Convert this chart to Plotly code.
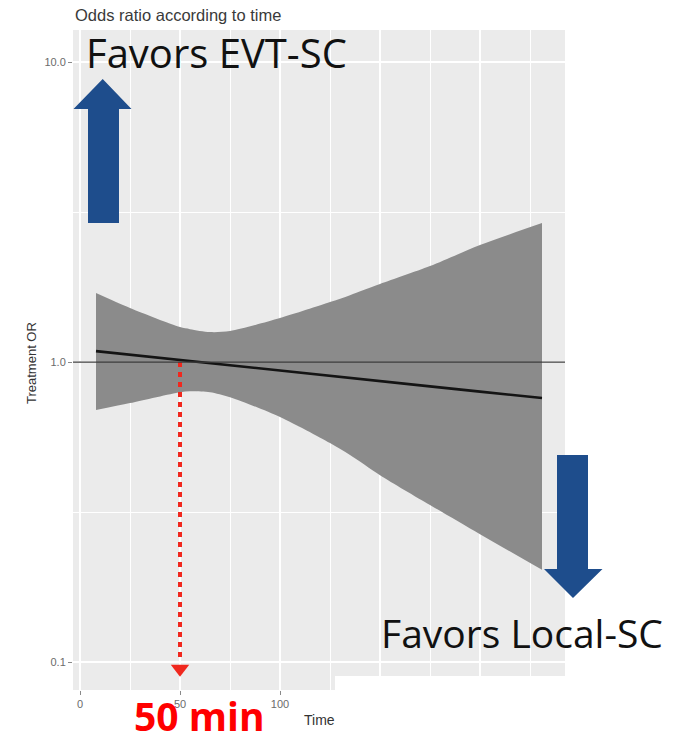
import plotly.graph_objects as go

# ---- data ----
time_min = [8, 25, 50, 55, 65, 75, 100, 125, 135, 150, 175, 200, 231]
or_est = [1.088, 1.059, 1.017, 1.009, 0.992, 0.976, 0.938, 0.900, 0.886, 0.865, 0.830, 0.797, 0.759]
or_upper = [1.698, 1.514, 1.308, 1.288, 1.259, 1.269, 1.402, 1.585, 1.672, 1.820, 2.089, 2.455, 2.906]
or_lower = [0.692, 0.730, 0.794, 0.800, 0.794, 0.764, 0.656, 0.537, 0.490, 0.420, 0.334, 0.267, 0.203]

x_tickvals = [0, 50, 100, 150, 200]
x_ticktext = ["0", "50", "100", "150", "200"]
x_minorvals = [25, 75, 125, 175, 225]
y_tickvals = [0.1, 1, 10]
y_ticktext = ["0.1", "1.0", "10.0"]
y_minorvals = [0.3162, 3.162]

cutoff_time = [50, 50]
cutoff_or = [1.0, 0.1]
cutoff_head_or = [0.095]

W, H = 684, 742
ML, MT = 73, 30
MR = W - 565
MB = H - 690
PW, PH = W - ML - MR, H - MT - MB


def px(x):
    return (x - ML) / PW


def py(y):
    return (H - MB - y) / PH


fig = go.Figure()

# confidence band
fig.add_trace(go.Scatter(x=time_min, y=or_lower, mode="lines",
                         line=dict(color="#8b8b8b", width=0, shape="spline", smoothing=0.8),
                         showlegend=False, hoverinfo="skip"))
fig.add_trace(go.Scatter(x=time_min, y=or_upper, mode="lines", fill="tonexty",
                         fillcolor="#8b8b8b",
                         line=dict(color="#8b8b8b", width=0, shape="spline", smoothing=0.8),
                         showlegend=False, hoverinfo="skip"))
# estimate
fig.add_trace(go.Scatter(x=time_min, y=or_est, mode="lines",
                         line=dict(color="#141414", width=2.6),
                         showlegend=False))
# red dotted cutoff line
fig.add_trace(go.Scatter(x=cutoff_time, y=cutoff_or, mode="lines",
                         line=dict(color="#f0281e", width=4, dash="5px,5px"),
                         showlegend=False))
fig.add_trace(go.Scatter(x=cutoff_time[:1], y=cutoff_head_or, mode="markers",
                         marker=dict(symbol="triangle-down", size=16, color="#f0281e"),
                         showlegend=False))

shapes = [
    # reference line at OR = 1
    dict(type="line", xref="paper", yref="y", x0=0, x1=1, y0=1, y1=1,
         line=dict(color="#3c3c3c", width=1.2), layer="above"),
]

up = [(88, 223), (88, 109), (73.5, 109), (102.7, 79), (131.5, 109), (119, 109), (119, 223)]
down = [(557, 455), (588, 455), (588, 569), (602.5, 569), (573, 598), (544, 569), (557, 569)]


def path(pts):
    return "M " + " L ".join(f"{px(a):.5f},{py(b):.5f}" for a, b in pts) + " Z"


for pts in (up, down):
    shapes.append(dict(type="path", xref="paper", yref="paper", path=path(pts),
                       fillcolor="#1e4d8c", line=dict(width=0), layer="above"))

# white cover rectangle at bottom right
shapes.append(dict(type="rect", xref="paper", yref="paper",
                   x0=px(335), x1=px(700), y0=py(676), y1=py(760),
                   fillcolor="white", line=dict(width=0), layer="above"))

annotations = [
    dict(text="Odds ratio according to time", x=px(73), y=py(15), xref="paper", yref="paper",
         xanchor="left", yanchor="middle", showarrow=False,
         font=dict(family="Liberation Sans", size=16.5, color="#3a3a3a")),
    dict(text="Favors EVT-SC", x=px(84), y=py(52), xref="paper", yref="paper",
         xanchor="left", yanchor="middle", showarrow=False,
         font=dict(family="Open Sans", size=40, color="#111111")),
    dict(text="Favors Local-SC", x=px(379), y=py(632), xref="paper", yref="paper",
         xanchor="left", yanchor="middle", showarrow=False,
         font=dict(family="Open Sans", size=39, color="#111111")),
    dict(text="<b>50 min</b>", x=px(132), y=py(715), xref="paper", yref="paper",
         xanchor="left", yanchor="middle", showarrow=False,
         font=dict(family="Open Sans", size=39, color="#ff0000")),
    dict(text="Time", x=px(319), y=py(720), xref="paper", yref="paper",
         xanchor="center", yanchor="middle", showarrow=False,
         font=dict(family="Liberation Sans", size=14, color="#333333")),
    dict(text="Treatment OR", x=px(31), y=py(363), xref="paper", yref="paper",
         xanchor="center", yanchor="middle", showarrow=False, textangle=-90,
         font=dict(family="Liberation Sans", size=13, color="#333333")),
]

fig.update_layout(
    width=W, height=H,
    margin=dict(l=ML, r=MR, t=MT, b=MB, pad=0),
    paper_bgcolor="white", plot_bgcolor="#ebebeb",
    shapes=shapes, annotations=annotations,
    showlegend=False,
    xaxis=dict(range=[-3.5, 242.5], tickvals=x_tickvals, ticktext=x_ticktext,
               showgrid=True, gridcolor="white", gridwidth=1.6, zeroline=False,
               ticks="outside", ticklen=4, tickcolor="#8a8a8a", tickwidth=1,
               tickfont=dict(family="Liberation Sans", size=11, color="#6b6b6b"),
               minor=dict(tickvals=x_minorvals, showgrid=True, gridcolor="white",
                          gridwidth=0.8, ticks=""),
               showline=False, fixedrange=True),
    yaxis=dict(type="log", range=[-1.093, 1.107], tickvals=y_tickvals, ticktext=y_ticktext,
               showgrid=True, gridcolor="white", gridwidth=1.6, zeroline=False,
               ticks="outside", ticklen=4, tickcolor="#8a8a8a", tickwidth=1,
               tickfont=dict(family="Liberation Sans", size=11, color="#6b6b6b"),
               minor=dict(tickvals=y_minorvals, showgrid=True, gridcolor="white",
                          gridwidth=0.8, ticks=""),
               showline=False, fixedrange=True),
)

fig.write_html("out.html",
               config={"displayModeBar": False},
               post_script="document.body.style.margin='0px';document.body.style.overflow='hidden';")
